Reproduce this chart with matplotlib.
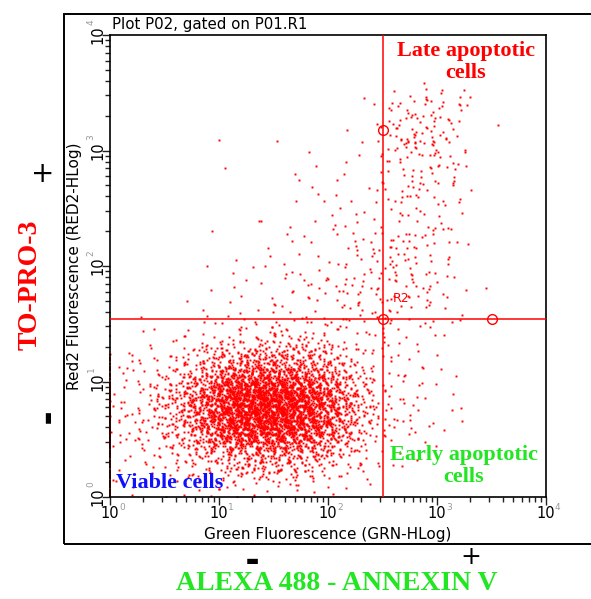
import numpy as np
import matplotlib
matplotlib.use("Agg")
import matplotlib.pyplot as plt
from matplotlib.patches import Rectangle
from matplotlib.ticker import LogLocator, NullFormatter

# ---------------- data ----------------
# counts of events per 0.25-decade cell, log10(GRN) columns 0..15 (0 -> 4),
# rows listed from top (log10(RED2) 3.75-4) down to bottom (0-0.25)
density_rows_top_down = [
    [0, 0, 0, 0, 0, 0, 0, 0, 0, 0, 0, 0, 0, 0, 0, 0],
    [0, 0, 0, 0, 0, 0, 0, 0, 0, 0, 0, 0, 0, 0, 0, 0],
    [0, 0, 0, 0, 0, 0, 0, 0, 0, 1, 12, 20, 12, 1, 0, 0],
    [0, 0, 0, 1, 0, 0, 1, 0, 1, 2, 15, 24, 12, 1, 0, 0],
    [0, 0, 0, 0, 1, 0, 1, 2, 2, 2, 12, 18, 10, 1, 0, 0],
    [0, 0, 0, 0, 0, 1, 1, 2, 3, 3, 10, 12, 6, 0, 0, 0],
    [0, 0, 0, 1, 0, 1, 2, 3, 5, 6, 8, 10, 4, 0, 0, 0],
    [0, 0, 0, 0, 1, 2, 3, 4, 8, 10, 14, 12, 5, 0, 0, 0],
    [0, 0, 0, 1, 2, 2, 4, 6, 10, 12, 14, 12, 5, 0, 0, 0],
    [0, 0, 1, 2, 3, 5, 6, 8, 10, 10, 12, 8, 4, 1, 0, 0],
    [1, 3, 5, 10, 15, 20, 22, 18, 12, 8, 6, 4, 2, 0, 0, 0],
    [5, 10, 25, 55, 110, 140, 130, 95, 45, 14, 5, 5, 2, 0, 0, 0],
    [10, 20, 60, 180, 380, 450, 430, 300, 120, 30, 8, 6, 3, 0, 0, 0],
    [10, 20, 55, 160, 340, 400, 380, 260, 110, 26, 8, 5, 2, 0, 0, 0],
    [6, 10, 20, 45, 75, 95, 90, 65, 30, 10, 4, 3, 1, 0, 0, 0],
    [3, 3, 5, 8, 12, 14, 12, 8, 5, 3, 1, 0, 0, 0, 0, 0],
]
# events piled on the left edge (GRN = 1) per RED2 row, bottom row first
edge_counts_bottom_up = [15, 20, 25, 25, 10, 2]

quad_x = 320.0      # GRN gate
quad_y = 35.0       # RED2 gate
handle_x = [320.0, 320.0, 3200.0]
handle_y = [1500.0, 35.0, 35.0]

x_tick_exponents = [0, 1, 2, 3, 4]
y_tick_exponents = [0, 1, 2, 3, 4]

title_text = "Plot P02, gated on P01.R1"
xlabel_text = "Green Fluorescence (GRN-HLog)"
ylabel_text = "Red2 Fluorescence (RED2-HLog)"

# ---------------- place events inside their cells (deterministic) ----------------
def halton(idx, base):
    idx = np.asarray(idx, dtype=np.int64)
    res = np.zeros(idx.shape, dtype=float)
    f = 1.0
    i = idx.copy()
    while np.any(i > 0):
        f /= base
        res += f * (i % base)
        i //= base
    return res

grid = np.array(density_rows_top_down[::-1])   # row 0 = bottom
cell = 0.25

lx_all, ly_all = [], []
for r in range(grid.shape[0]):
    for c in range(grid.shape[1]):
        n = int(grid[r, c])
        if n == 0:
            continue
        k = np.arange(1, n + 1) + 17 * r + 53 * c + 5
        # triangular kernel (sum of two uniforms) -> smooth tiling of cells
        dx = halton(k, 2) + halton(k, 5) - 1.0
        dy = halton(k, 3) + halton(k, 7) - 1.0
        lx_all.append((c + 0.5 + dx) * cell)
        ly_all.append((r + 0.5 + dy) * cell)
lx = np.clip(np.concatenate(lx_all), 0.0, 4.0)
ly = np.concatenate(ly_all)
x_events = 10 ** lx
y_events = 10 ** ly

ex, ey = [], []
for r, n in enumerate(edge_counts_bottom_up):
    k = np.arange(1, n + 1) + 3 * r
    v = halton(k, 3)
    ey.append(10 ** ((r + v) * cell))
    ex.append(np.ones(n))
ex = np.concatenate(ex)
ey = np.concatenate(ey)

# ---------------- figure ----------------
W, H = 591, 599
fig = plt.figure(figsize=(W / 100, H / 100), dpi=100)

def fx(px):
    return px / W

def fy(py):
    return 1 - py / H

# outer frame
fig.patches.append(Rectangle((fx(64), fy(544)), fx(600) - fx(64), fy(14) - fy(544),
                             transform=fig.transFigure, fill=False,
                             edgecolor="black", linewidth=1.4, zorder=0))

ax = fig.add_axes([fx(110), fy(497), fx(546) - fx(110), fy(35) - fy(497)])
ax.set_xscale("log")
ax.set_yscale("log")
ax.set_xlim(1, 1e4)
ax.set_ylim(1, 1e4)

red = "#ff0000"
ax.plot(x_events, y_events, "s", ms=1.4, mew=0, color=red, zorder=2)
ax.plot(ex, ey, "s", ms=1.6, mew=0, color=red, zorder=2, clip_on=False)

ax.axvline(quad_x, color=red, lw=1.1, zorder=3)
ax.axhline(quad_y, color=red, lw=1.1, zorder=3)
ax.plot(handle_x, handle_y, "o", ms=7, mfc="none", mec=red, mew=1.0, zorder=4)
ax.text(395, 52, "R2", color=red, fontsize=9, family="DejaVu Sans", va="center")

for s in ax.spines.values():
    s.set_linewidth(1.2)
    s.set_color("black")

ax.tick_params(which="major", direction="out", length=6, width=1.0, color="#222222")
ax.tick_params(which="minor", direction="out", length=3.5, width=1.0, color="#222222")
ax.set_xticks([10.0 ** e for e in x_tick_exponents])
ax.set_yticks([10.0 ** e for e in y_tick_exponents])
ax.set_xticklabels([])
ax.set_yticklabels([])
ax.xaxis.set_minor_locator(LogLocator(base=10, subs=np.arange(2, 10), numticks=20))
ax.yaxis.set_minor_locator(LogLocator(base=10, subs=np.arange(2, 10), numticks=20))
ax.xaxis.set_minor_formatter(NullFormatter())
ax.yaxis.set_minor_formatter(NullFormatter())

# tick labels: "10" black with grey exponent
tick_fs = 10.5
for e in x_tick_exponents:
    xp = 110 + e * 109
    fig.text(fx(xp), fy(513), "10", fontsize=tick_fs, ha="center", va="center",
             family="DejaVu Sans")
    fig.text(fx(xp + 9), fy(507), str(e), fontsize=6.5, ha="left", va="center",
             color="#9a9a9a", family="DejaVu Sans")
for e in y_tick_exponents:
    yp = 497 - e * 115.5
    fig.text(fx(98), fy(yp), "10", fontsize=tick_fs, ha="center", va="center",
             rotation=90, family="DejaVu Sans")
    fig.text(fx(91), fy(yp - 10), str(e), fontsize=6.5, ha="center", va="bottom",
             rotation=90, color="#9a9a9a", family="DejaVu Sans")

fig.text(fx(112), fy(24), title_text, fontsize=10.8, ha="left", va="center",
         family="DejaVu Sans")
fig.text(fx(328), fy(535), xlabel_text, fontsize=11, ha="center", va="center",
         family="DejaVu Sans")
fig.text(fx(75), fy(266), ylabel_text, fontsize=11, ha="center", va="center",
         rotation=90, family="DejaVu Sans")

serif = "Liberation Serif"
green = "#22e622"
fig.text(fx(466), fy(62), "Late apoptotic\ncells", color=red, fontsize=16,
         fontweight="bold", family=serif, ha="center", va="center", linespacing=1.15)
fig.text(fx(464), fy(466), "Early apoptotic\ncells", color=green, fontsize=16,
         fontweight="bold", family=serif, ha="center", va="center", linespacing=1.15)
fig.text(fx(116), fy(483), "Viable cells", color="#1010ff", fontsize=16,
         fontweight="bold", family=serif, ha="left", va="center")
fig.text(fx(30), fy(285), "TO-PRO-3", color=red, fontsize=20, fontweight="bold",
         family=serif, ha="center", va="center", rotation=90)
fig.text(fx(337), fy(584), "ALEXA 488 - ANNEXIN V", color=green, fontsize=20,
         fontweight="bold", family=serif, ha="center", va="center")

# +/- signs
fig.text(fx(43), fy(174), "+", fontsize=20, ha="center", va="center", family="DejaVu Sans")
fig.text(fx(48), fy(416), "\u25ac", fontsize=10, ha="center",
         va="center", rotation=90, family="DejaVu Sans")
fig.text(fx(252), fy(561), "\u25ac", fontsize=10, ha="center",
         va="center", family="DejaVu Sans")
fig.text(fx(471), fy(557), "+", fontsize=18, ha="center", va="center", family="DejaVu Sans")

fig.savefig("out.png", dpi=100)
